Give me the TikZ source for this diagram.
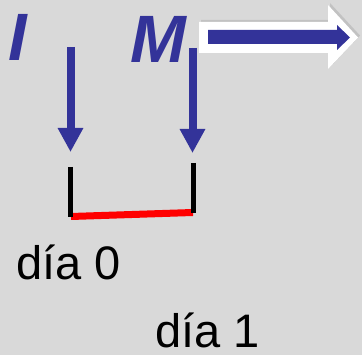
\documentclass[tikz,border=0pt]{standalone}
\usepackage{fontspec}
\setmainfont{Liberation Sans}
\usetikzlibrary{arrows.meta,shadows}
\definecolor{bgray}{HTML}{D9D9D9}
\definecolor{navy}{HTML}{333399}
\definecolor{mark}{HTML}{FF0000}
\tikzset{
  letter/.style={anchor=base west,inner sep=0pt,text=navy,font=\fontsize{67}{67}\selectfont\bfseries\itshape},
  daylabel/.style={anchor=base west,inner sep=0pt,text depth=0pt,text=black,font=\fontsize{47}{47}\selectfont},
  downarrow/.style={draw=navy,line width=8pt,-{Triangle[width=24pt,length=24pt]},fill=navy},
  tick/.style={draw=black,line width=5pt},
  span/.style={draw=mark,line width=7pt},
}
\begin{document}
\begin{tikzpicture}[x=1pt,y=-1pt]
  % canvas
  \fill[bgray] (0,0) rectangle (362,355);
  \useasboundingbox (0,0) rectangle (362,355);

  % letters
  \node[letter] (I) at (8,61) {I};
  \node[letter] (M) at (130,63) {M};

  % anchor points of the two down arrows and the interval
  \coordinate (aL) at (70.5,47);
  \coordinate (bL) at (70.5,152);
  \coordinate (aR) at (192.5,48);
  \coordinate (bR) at (192.5,153);
  \coordinate (tL1) at (70.5,167);
  \coordinate (tL2) at (70.5,217);
  \coordinate (tR1) at (193.5,163);
  \coordinate (tR2) at (193.5,213);
  \coordinate (rL) at (71,216.5);
  \coordinate (rR) at (193,212.5);

  \draw[downarrow] (aL) -- (bL);
  \draw[downarrow] (aR) -- (bR);

  % interval between the two days
  \draw[span] (rL) -- (rR);
  \draw[tick] (tL1) -- (tL2);
  \draw[tick] (tR1) -- (tR2);

  % big outlined arrow to the right
  \path[fill=white,drop shadow={shadow xshift=2pt,shadow yshift=2pt,opacity=0.25}]
    (199,22) -- (328,22) -- (328,5) -- (358,37.5) -- (328,69) -- (328,53) -- (199,53) -- cycle;
  \fill[navy] (208,30) -- (337,30) -- (337,25) -- (350,37.5) -- (337,50) -- (337,44) -- (208,44) -- cycle;

  % day labels
  \node[daylabel] (d0) at (16,280) {día 0};
  \node[daylabel] (d1) at (155,348) {día 1};
\end{tikzpicture}
\end{document}
